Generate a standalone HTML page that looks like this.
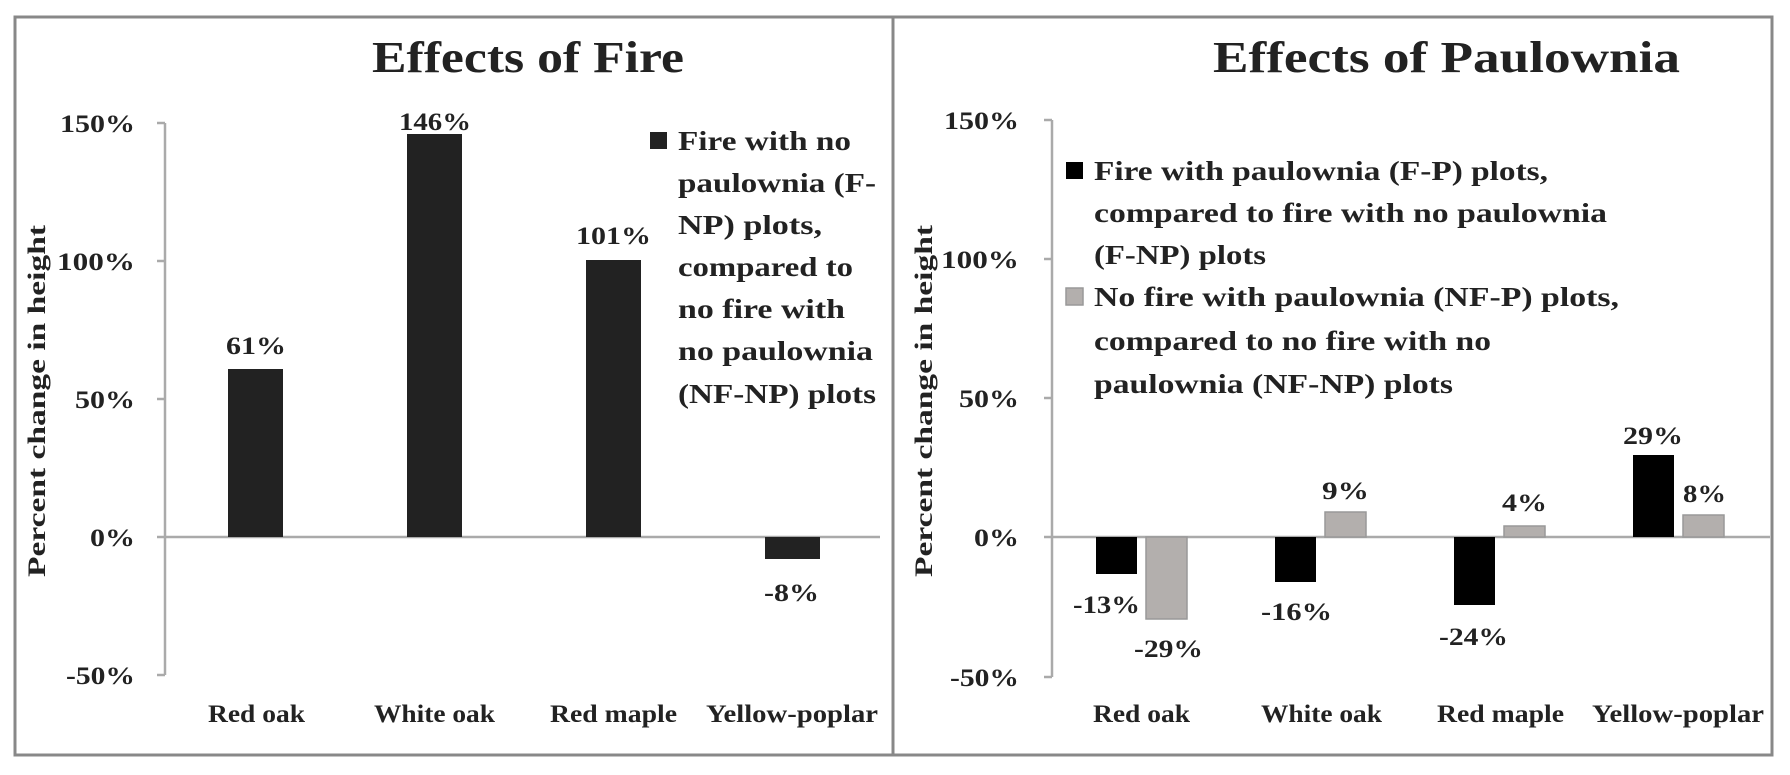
<!DOCTYPE html>
<html><head><meta charset="utf-8"><style>
html,body{margin:0;padding:0;background:#fff;}
svg{display:block;}
text{font-family:"Liberation Serif",serif;font-weight:bold;fill:#222;}
</style></head><body>
<svg width="1790" height="775" viewBox="0 0 1790 775" xmlns="http://www.w3.org/2000/svg">
<rect x="15" y="17" width="1757" height="738" fill="none" stroke="#888" stroke-width="3"/>
<line x1="893" y1="17" x2="893" y2="755" stroke="#888" stroke-width="3"/>

<!-- LEFT PANEL -->
<text x="372" y="72" font-size="44" textLength="312" lengthAdjust="spacingAndGlyphs">Effects of Fire</text>
<g stroke="#aaa" stroke-width="2.5" fill="none">
<line x1="165" y1="123" x2="165" y2="675"/>
<line x1="157" y1="123" x2="165" y2="123"/>
<line x1="157" y1="261" x2="165" y2="261"/>
<line x1="157" y1="399" x2="165" y2="399"/>
<line x1="157" y1="537" x2="880" y2="537"/>
<line x1="157" y1="675" x2="165" y2="675"/>
</g>
<g font-size="25" lengthAdjust="spacingAndGlyphs">
<text x="60" y="132" textLength="75" lengthAdjust="spacingAndGlyphs">150%</text>
<text x="57" y="270" textLength="78" lengthAdjust="spacingAndGlyphs">100%</text>
<text x="75" y="408" textLength="60" lengthAdjust="spacingAndGlyphs">50%</text>
<text x="90" y="546" textLength="45" lengthAdjust="spacingAndGlyphs">0%</text>
<text x="66" y="684" textLength="69" lengthAdjust="spacingAndGlyphs">-50%</text>
</g>
<text transform="translate(45,577) rotate(-90)" font-size="25" textLength="352" lengthAdjust="spacingAndGlyphs">Percent change in height</text>
<g fill="#222">
<rect x="228" y="369" width="55" height="168"/>
<rect x="407" y="134" width="55" height="403"/>
<rect x="586" y="260" width="55" height="277"/>
<rect x="765" y="537" width="55" height="22"/>
</g>
<g font-size="25">
<text x="226" y="354" textLength="60" lengthAdjust="spacingAndGlyphs">61%</text>
<text x="399" y="130" textLength="72" lengthAdjust="spacingAndGlyphs">146%</text>
<text x="576" y="244" textLength="75" lengthAdjust="spacingAndGlyphs">101%</text>
<text x="764" y="601" textLength="55" lengthAdjust="spacingAndGlyphs">-8%</text>
<text x="208" y="722" textLength="97" lengthAdjust="spacingAndGlyphs">Red oak</text>
<text x="374" y="722" textLength="121" lengthAdjust="spacingAndGlyphs">White oak</text>
<text x="550" y="722" textLength="127" lengthAdjust="spacingAndGlyphs">Red maple</text>
<text x="706" y="722" textLength="172" lengthAdjust="spacingAndGlyphs">Yellow-poplar</text>
</g>
<rect x="650" y="132" width="17" height="17" fill="#222"/>
<g font-size="27">
<text x="678" y="150" textLength="173" lengthAdjust="spacingAndGlyphs">Fire with no</text>
<text x="678" y="192" textLength="198" lengthAdjust="spacingAndGlyphs">paulownia (F-</text>
<text x="678" y="234" textLength="144" lengthAdjust="spacingAndGlyphs">NP) plots,</text>
<text x="678" y="276" textLength="175" lengthAdjust="spacingAndGlyphs">compared to</text>
<text x="678" y="318" textLength="167" lengthAdjust="spacingAndGlyphs">no fire with</text>
<text x="678" y="360" textLength="195" lengthAdjust="spacingAndGlyphs">no paulownia</text>
<text x="678" y="403" textLength="198" lengthAdjust="spacingAndGlyphs">(NF-NP) plots</text>
</g>

<!-- RIGHT PANEL -->
<text x="1213" y="72" font-size="44" textLength="467" lengthAdjust="spacingAndGlyphs">Effects of Paulownia</text>
<g stroke="#aaa" stroke-width="2.5" fill="none">
<line x1="1052" y1="120" x2="1052" y2="677"/>
<line x1="1044" y1="120" x2="1052" y2="120"/>
<line x1="1044" y1="259" x2="1052" y2="259"/>
<line x1="1044" y1="398" x2="1052" y2="398"/>
<line x1="1044" y1="537" x2="1770" y2="537"/>
<line x1="1044" y1="677" x2="1052" y2="677"/>
</g>
<g font-size="25">
<text x="944" y="129" textLength="75" lengthAdjust="spacingAndGlyphs">150%</text>
<text x="941" y="268" textLength="78" lengthAdjust="spacingAndGlyphs">100%</text>
<text x="959" y="407" textLength="60" lengthAdjust="spacingAndGlyphs">50%</text>
<text x="974" y="546" textLength="45" lengthAdjust="spacingAndGlyphs">0%</text>
<text x="950" y="686" textLength="69" lengthAdjust="spacingAndGlyphs">-50%</text>
</g>
<text transform="translate(932,577) rotate(-90)" font-size="25" textLength="352" lengthAdjust="spacingAndGlyphs">Percent change in height</text>
<g fill="#000">
<rect x="1096" y="537" width="41" height="37"/>
<rect x="1275" y="537" width="41" height="45"/>
<rect x="1454" y="537" width="41" height="68"/>
<rect x="1633" y="455" width="41" height="82"/>
</g>
<g fill="#b3afad" stroke="#999" stroke-width="1.5">
<rect x="1146" y="537" width="41" height="82"/>
<rect x="1325" y="512" width="41" height="25"/>
<rect x="1504" y="526" width="41" height="11"/>
<rect x="1683" y="515" width="41" height="22"/>
</g>
<g font-size="25">
<text x="1073" y="613" textLength="67" lengthAdjust="spacingAndGlyphs">-13%</text>
<text x="1134" y="657" textLength="69" lengthAdjust="spacingAndGlyphs">-29%</text>
<text x="1261" y="620" textLength="71" lengthAdjust="spacingAndGlyphs">-16%</text>
<text x="1322" y="499" textLength="47" lengthAdjust="spacingAndGlyphs">9%</text>
<text x="1439" y="645" textLength="69" lengthAdjust="spacingAndGlyphs">-24%</text>
<text x="1502" y="511" textLength="45" lengthAdjust="spacingAndGlyphs">4%</text>
<text x="1623" y="444" textLength="60" lengthAdjust="spacingAndGlyphs">29%</text>
<text x="1683" y="502" textLength="43" lengthAdjust="spacingAndGlyphs">8%</text>
<text x="1093" y="722" textLength="97" lengthAdjust="spacingAndGlyphs">Red oak</text>
<text x="1261" y="722" textLength="121" lengthAdjust="spacingAndGlyphs">White oak</text>
<text x="1437" y="722" textLength="127" lengthAdjust="spacingAndGlyphs">Red maple</text>
<text x="1592" y="722" textLength="172" lengthAdjust="spacingAndGlyphs">Yellow-poplar</text>
</g>
<rect x="1066" y="162" width="17" height="17" fill="#000"/>
<rect x="1066" y="288" width="17" height="17" fill="#b3afad" stroke="#999" stroke-width="1.5"/>
<g font-size="27">
<text x="1094" y="180" textLength="454" lengthAdjust="spacingAndGlyphs">Fire with paulownia (F-P) plots,</text>
<text x="1094" y="222" textLength="513" lengthAdjust="spacingAndGlyphs">compared to fire with no paulownia</text>
<text x="1094" y="264" textLength="172" lengthAdjust="spacingAndGlyphs">(F-NP) plots</text>
<text x="1094" y="306" textLength="525" lengthAdjust="spacingAndGlyphs">No fire with paulownia (NF-P) plots,</text>
<text x="1094" y="350" textLength="397" lengthAdjust="spacingAndGlyphs">compared to no fire with no</text>
<text x="1094" y="393" textLength="359" lengthAdjust="spacingAndGlyphs">paulownia (NF-NP) plots</text>
</g>
</svg>
</body></html>
